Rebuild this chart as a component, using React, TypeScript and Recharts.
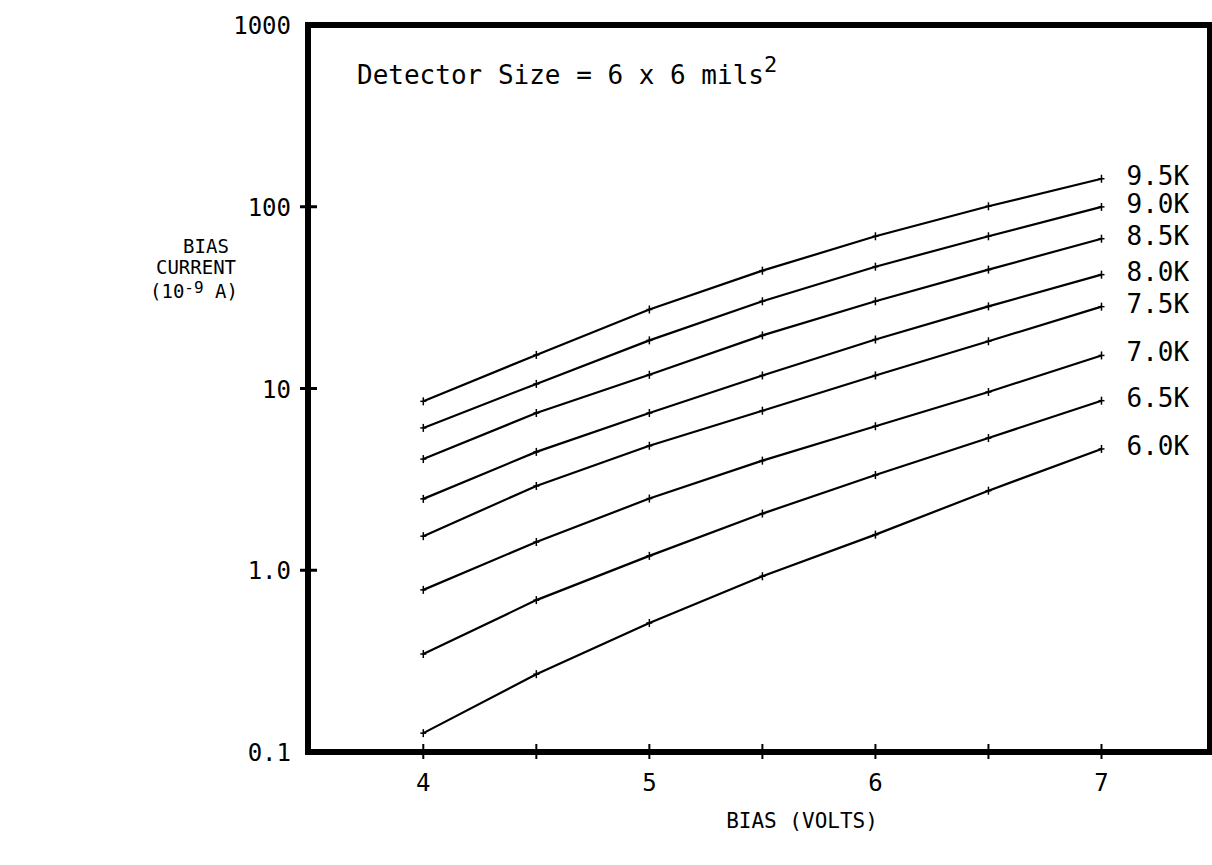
import React from "react";
import { LineChart, Line, XAxis, YAxis, ReferenceArea } from "recharts";

// bias voltage (x) and measured bias current in 1e-9 A, one array per temperature
const BIAS_VOLTS = [4, 4.5, 5, 5.5, 6, 6.5, 7];
const X_TICKS = [4, 4.5, 5, 5.5, 6, 6.5, 7];
const Y_TICKS = [0.1, 1, 10, 100, 1000];
const Y_TICK_LABELS = ["0.1", "1.0", "10", "100", "1000"];

const I_95K = [8.5, 15.3, 27.2, 44.5, 68.8, 100.6, 142.6];
const I_90K = [6.07, 10.6, 18.4, 30.2, 46.8, 68.8, 99.8];
const I_85K = [4.09, 7.33, 11.9, 19.6, 30.2, 45.1, 66.7];
const I_80K = [2.47, 4.48, 7.33, 11.8, 18.6, 28.3, 42.3];
const I_75K = [1.54, 2.91, 4.84, 7.55, 11.8, 18.2, 28.2];
const I_70K = [0.78, 1.43, 2.48, 4.01, 6.2, 9.57, 15.2];
const I_65K = [0.346, 0.685, 1.2, 2.05, 3.34, 5.34, 8.57];
const I_60K = [0.127, 0.268, 0.513, 0.927, 1.57, 2.74, 4.65];

const SERIES = [
  { key: "k95", label: "9.5K", values: I_95K },
  { key: "k90", label: "9.0K", values: I_90K },
  { key: "k85", label: "8.5K", values: I_85K },
  { key: "k80", label: "8.0K", values: I_80K },
  { key: "k75", label: "7.5K", values: I_75K },
  { key: "k70", label: "7.0K", values: I_70K },
  { key: "k65", label: "6.5K", values: I_65K },
  { key: "k60", label: "6.0K", values: I_60K },
];

const rows = BIAS_VOLTS.map((v, i) => {
  const row: Record<string, number> = { v };
  SERIES.forEach((s) => (row[s.key] = s.values[i]));
  return row;
});

const FONT = "'DejaVu Sans Mono', 'Liberation Mono', monospace";
const W = 1212;
const H = 865;

const XTick = (props: any) => {
  const { x, y, payload } = props;
  const v = payload.value;
  return (
    <g>
      <line x1={x} x2={x} y1={y - 8} y2={y + 7} stroke="#000" strokeWidth={2} />
      {Number.isInteger(v) && (
        <text x={x} y={y + 39} textAnchor="middle" fontFamily={FONT} fontSize={24} fill="#000">
          {v}
        </text>
      )}
    </g>
  );
};

const YTick = (props: any) => {
  const { x, y, payload } = props;
  const idx = Y_TICKS.indexOf(payload.value);
  const inner = payload.value > 0.1 && payload.value < 1000;
  return (
    <g>
      {inner && <line x1={x - 8} x2={x + 9} y1={y} y2={y} stroke="#000" strokeWidth={3} />}
      <text x={x - 17} y={y + 9} textAnchor="end" fontFamily={FONT} fontSize={24} fill="#000">
        {Y_TICK_LABELS[idx]}
      </text>
    </g>
  );
};

const makeDot = (label: string) => (props: any) => {
  const { cx, cy, index } = props;
  return (
    <g key={`${label}-${index}`}>
      <line x1={cx - 3} x2={cx + 3} y1={cy} y2={cy} stroke="#000" strokeWidth={1.5} />
      <line x1={cx} x2={cx} y1={cy - 4} y2={cy + 4} stroke="#000" strokeWidth={1.5} />
      {index === BIAS_VOLTS.length - 1 && (
        <text x={cx + 25} y={cy + 6} fontFamily={FONT} fontSize={26} fill="#000">
          {label}
        </text>
      )}
    </g>
  );
};

export default function App() {
  return (
    <div style={{ position: "absolute", left: 0, top: 0, width: W, height: H, background: "#fff" }}>
      <LineChart width={W} height={H} data={rows} margin={{ top: 25, right: 2, bottom: 83, left: 248 }}>
        <XAxis
          dataKey="v"
          type="number"
          domain={[3.49, 7.48]}
          ticks={X_TICKS}
          tick={<XTick />}
          tickSize={0}
          tickMargin={0}
          tickLine={false}
          axisLine={false}
          height={30}
          allowDataOverflow
        />
        <YAxis
          type="number"
          scale="log"
          domain={[0.1, 1000]}
          ticks={Y_TICKS}
          tick={<YTick />}
          tickSize={0}
          tickMargin={0}
          tickLine={false}
          axisLine={false}
          width={60}
          allowDataOverflow
        />
        <ReferenceArea x1={3.49} x2={7.48} y1={0.1} y2={1000} fill="none" stroke="#000" strokeWidth={6} />
        {SERIES.map((s) => (
          <Line
            key={s.key}
            dataKey={s.key}
            type="linear"
            stroke="#000"
            strokeWidth={2.2}
            dot={makeDot(s.label)}
            activeDot={false}
            isAnimationActive={false}
          />
        ))}
      </LineChart>
      <svg width={W} height={H} style={{ position: "absolute", left: 0, top: 0, pointerEvents: "none" }}>
        <text x={357} y={84} fontFamily={FONT} fontSize={26} fill="#000">
          Detector Size = 6 x 6 mils
          <tspan dy={-12} fontSize={22}>2</tspan>
        </text>
        <text x={802} y={828} textAnchor="middle" fontFamily={FONT} fontSize={21} fill="#000">
          BIAS (VOLTS)
        </text>
        <g fontFamily={FONT} fontSize={19} fill="#000">
          <text x={206} y={253} textAnchor="middle">BIAS</text>
          <text x={196} y={274} textAnchor="middle">CURRENT</text>
          <text x={150} y={298}>
            (10
            <tspan dy={-5} fontSize={16}>-9</tspan>
            <tspan dy={5}> A)</tspan>
          </text>
        </g>
      </svg>
    </div>
  );
}
